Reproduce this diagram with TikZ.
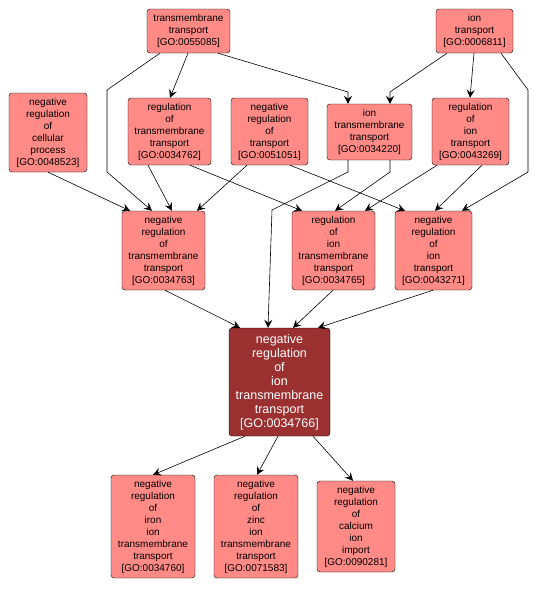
\documentclass[tikz,border=0pt]{standalone}
\usepackage{fontspec}
\setmainfont{Liberation Sans}
\usepackage{xcolor}
\usetikzlibrary{arrows.meta,positioning}
\definecolor{termfill}{HTML}{FF8A86}
\definecolor{focusfill}{HTML}{9A3030}

\begin{document}
\begin{tikzpicture}[x=1pt, y=-1pt,
  term/.style={draw, thin, fill=termfill, rounded corners=3pt,
    inner sep=0pt, align=center, font=\fontsize{10}{12}\selectfont},
  focus/.style={term, fill=focusfill, text=white,
    font=\fontsize{12.5}{14}\selectfont},
  isa/.style={-{Stealth[length=8pt,width=8pt,inset=3pt]}, semithick}
]
\useasboundingbox (0,0) rectangle (539,590);

% Top row
\node[term, minimum width=83pt, minimum height=44pt] (tt) at (188.5,31)
  {transmembrane\\transport\\{[GO:0055085]}};
\node[term, minimum width=77pt, minimum height=44pt] (it) at (474.5,31)
  {ion\\transport\\{[GO:0006811]}};

% Second row
\node[term, minimum width=78pt, minimum height=79pt] (nrcp) at (48,132.5)
  {negative\\regulation\\of\\cellular\\process\\{[GO:0048523]}};
\node[term, minimum width=83pt, minimum height=67pt] (rtt) at (169.5,131.5)
  {regulation\\of\\transmembrane\\transport\\{[GO:0034762]}};
\node[term, minimum width=77pt, minimum height=67pt] (nrt) at (269.5,131.5)
  {negative\\regulation\\of\\transport\\{[GO:0051051]}};
\node[term, minimum width=85pt, minimum height=56pt] (itt) at (369.5,132)
  {ion\\transmembrane\\transport\\{[GO:0034220]}};
\node[term, minimum width=77pt, minimum height=67pt] (rit) at (470.5,131.5)
  {regulation\\of\\ion\\transport\\{[GO:0043269]}};

% Third row
\node[term, minimum width=83pt, minimum height=79pt] (nrtt) at (163.5,250.5)
  {negative\\regulation\\of\\transmembrane\\transport\\{[GO:0034763]}};
\node[term, minimum width=83pt, minimum height=79pt] (ritt) at (333.5,250.5)
  {regulation\\of\\ion\\transmembrane\\transport\\{[GO:0034765]}};
\node[term, minimum width=77pt, minimum height=79pt] (nrit) at (433.5,250.5)
  {negative\\regulation\\of\\ion\\transport\\{[GO:0043271]}};

% Focus term
\node[focus, minimum width=101pt, minimum height=108pt] (main) at (279.5,382)
  {negative\\regulation\\of\\ion\\transmembrane\\transport\\{[GO:0034766]}};

% Children
\node[term, minimum width=84pt, minimum height=103pt] (iron) at (153,526.5)
  {negative\\regulation\\of\\iron\\ion\\transmembrane\\transport\\{[GO:0034760]}};
\node[term, minimum width=84pt, minimum height=103pt] (zinc) at (256,526.5)
  {negative\\regulation\\of\\zinc\\ion\\transmembrane\\transport\\{[GO:0071583]}};
\node[term, minimum width=78pt, minimum height=91pt] (calc) at (356,526.5)
  {negative\\regulation\\of\\calcium\\ion\\import\\{[GO:0090281]}};

% Bends
\coordinate (b1) at (107,90);
\coordinate (b2) at (107,172);
\coordinate (b3) at (348,92);
\coordinate (b4) at (390,92);
\coordinate (b5) at (528,90);
\coordinate (b6) at (528,172);
\coordinate (b7) at (390,172);
\coordinate (b8) at (348,172);
\coordinate (b9) at (272,210);

% Edges from the top row
\draw[isa] ([xshift=-0.5pt]tt.south) -- ([xshift=0.5pt]rtt.north);
\draw[isa] ([xshift=-28.5pt]tt.south) -- (b1) -- (b2) -- ([xshift=-11.5pt]nrtt.north);
\draw[isa] ([xshift=29.5pt]tt.south) -- (b3) -- ([xshift=-21.5pt]itt.north);
\draw[isa] ([xshift=-27.5pt]it.south) -- (b4) -- ([xshift=20.5pt]itt.north);
\draw[isa] ([xshift=-0.5pt]it.south) -- ([xshift=-0.5pt]rit.north);
\draw[isa] ([xshift=26.5pt]it.south) -- (b5) -- (b6) -- ([xshift=28.5pt]nrit.north);

% Edges from the second row
\draw[isa] (nrcp.south) -- ([xshift=-33.5pt]nrtt.north);
\draw[isa] ([xshift=-21.5pt]rtt.south) -- ([xshift=8.5pt]nrtt.north);
\draw[isa] ([xshift=20.5pt]rtt.south) -- ([xshift=-31.5pt]ritt.north);
\draw[isa] ([xshift=-22.5pt]nrt.south) -- ([xshift=33.5pt]nrtt.north);
\draw[isa] ([xshift=20.5pt]nrt.south) -- ([xshift=-28.5pt]nrit.north);
\draw[isa] ([xshift=20.5pt]itt.south) -- (b7) -- ([xshift=1.5pt]ritt.north);
\draw[isa] ([xshift=-21.5pt]itt.south) -- (b8) -- (b9) -- ([xshift=-11.5pt]main.north);
\draw[isa] ([xshift=-33.5pt]rit.south) -- ([xshift=31.5pt]ritt.north);
\draw[isa] ([xshift=11.5pt]rit.south) -- ([xshift=1.5pt]nrit.north);

% Edges into the focus term
\draw[isa] ([xshift=1.5pt]nrtt.south) -- ([xshift=-39.5pt]main.north);
\draw[isa] ([xshift=-0.5pt]ritt.south) -- ([xshift=13.5pt]main.north);
\draw[isa] ([xshift=-0.5pt]nrit.south) -- ([xshift=38.5pt]main.north);

% Edges to the children
\draw[isa] ([xshift=-34.5pt]main.south) -- (iron.north);
\draw[isa] ([xshift=-1.5pt]main.south) -- ([xshift=1pt]zinc.north);
\draw[isa] ([xshift=33.5pt]main.south) -- ([xshift=-3pt]calc.north);

\end{tikzpicture}
\end{document}
